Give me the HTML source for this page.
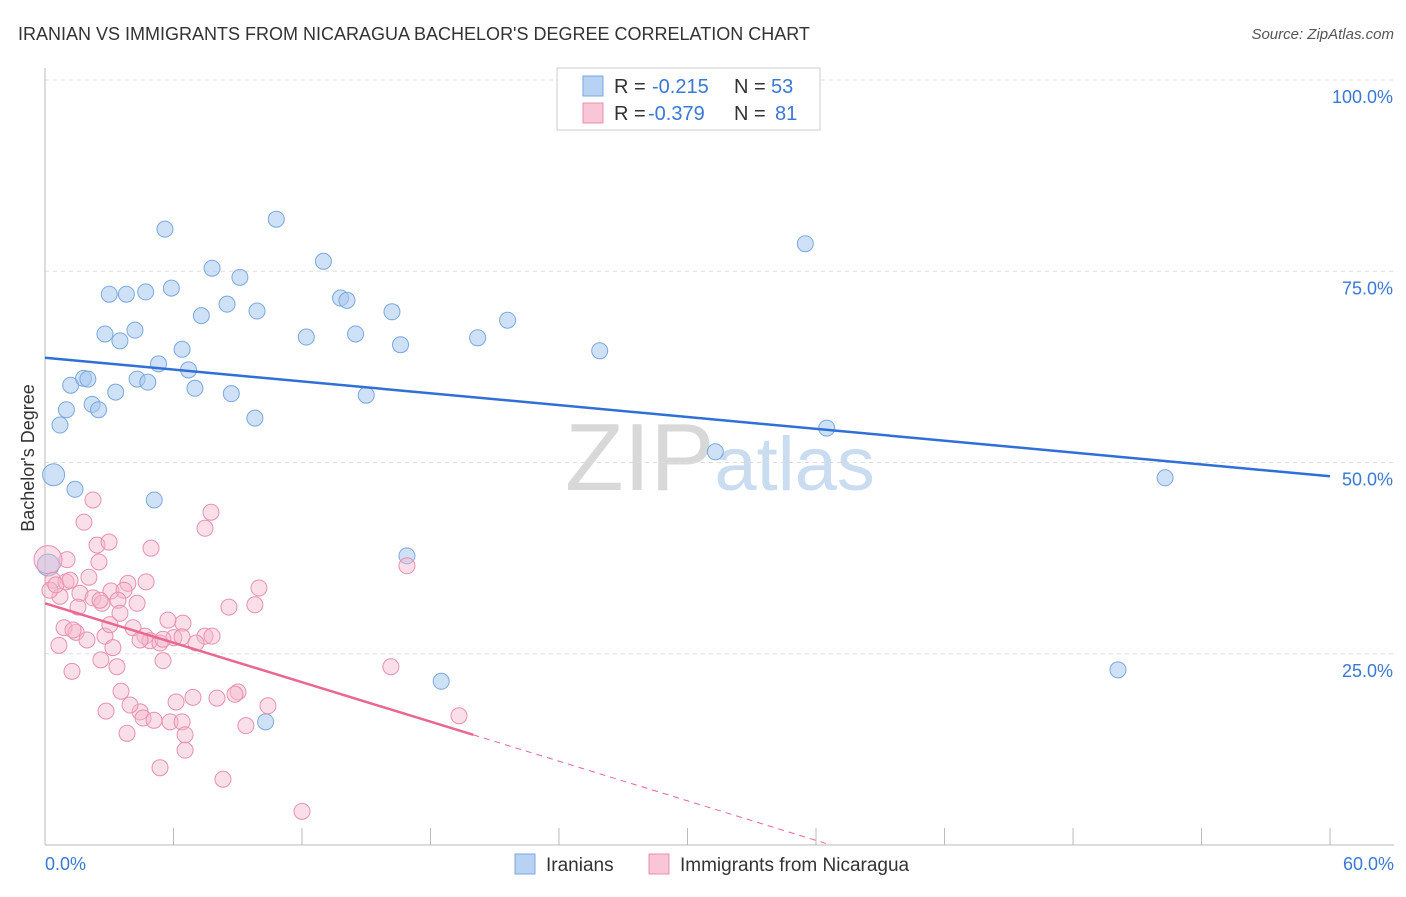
<!DOCTYPE html>
<html><head><meta charset="utf-8"><style>
body{margin:0;background:#fff;font-family:"Liberation Sans",sans-serif}
svg text{font-family:"Liberation Sans",sans-serif}
</style></head><body>
<svg id="c" width="1406" height="892">
<text x="18" y="40" font-size="18" fill="#333">IRANIAN VS IMMIGRANTS FROM NICARAGUA BACHELOR'S DEGREE CORRELATION CHART</text>
<text x="1394" y="39" font-size="15" fill="#555" font-style="italic" text-anchor="end">Source: ZipAtlas.com</text>
<text x="720" y="490" font-size="96" fill="#ddd" text-anchor="middle" font-family="Liberation Serif"><tspan fill="#d8d8d8">ZIP</tspan><tspan fill="#c9dcf0" font-family="Liberation Sans" font-size="76">atlas</tspan></text>
<g id="grid"></g><g id="pts"></g><g id="lines"></g>
<text x="34" y="458" font-size="18" fill="#333" text-anchor="middle" transform="rotate(-90 34 458)">Bachelor's Degree</text>
<text x="45" y="870" font-size="18" fill="#3a78d4">0.0%</text>
<text x="1394" y="870" font-size="18" fill="#3a78d4" text-anchor="end">60.0%</text>
<g>
<rect x="557" y="68" width="263" height="62" fill="#fff" stroke="#ccc"/>
<rect x="583" y="76" width="20" height="20" fill="#b8d2f4" stroke="#7aa8e0"/>
<rect x="583" y="103" width="20" height="20" fill="#f8c6d6" stroke="#e890b0"/>
<text x="614" y="93" font-size="20" fill="#333">R =</text>
<text x="652" y="93" font-size="20" fill="#3a78d4">-0.215</text>
<text x="734" y="93" font-size="20" fill="#333">N =</text>
<text x="771" y="93" font-size="20" fill="#3a78d4">53</text>
<text x="614" y="120" font-size="20" fill="#333">R =</text>
<text x="648" y="120" font-size="20" fill="#3a78d4">-0.379</text>
<text x="734" y="120" font-size="20" fill="#333">N =</text>
<text x="775" y="120" font-size="20" fill="#3a78d4">81</text>
</g>
<g>
<rect x="515" y="854" width="20" height="20" fill="#b8d2f4" stroke="#7aa8e0"/>
<text x="546" y="871" font-size="19" fill="#333">Iranians</text>
<rect x="649" y="854" width="20" height="20" fill="#f8c6d6" stroke="#e890b0"/>
<text x="680" y="871" font-size="19" fill="#333">Immigrants from Nicaragua</text>
</g>
</svg>
<script>
const yTicks=[25,50,75,100];
const yTickLabels=["25.0%","50.0%","75.0%","100.0%"];
const xTicks=[0,6,12,18,24,30,36,42,48,54,60];
const blueX=[5.6,10.8,35.5,7.8,13.0,9.1,3.0,3.8,4.7,5.9,13.8,14.1,8.5,7.3,9.9,16.2,21.6,2.8,4.2,3.5,12.2,14.5,16.6,20.2,25.9,6.4,5.3,6.7,1.2,1.8,2.0,4.3,4.8,3.3,7.0,8.7,15.0,2.2,2.5,1.0,0.7,9.8,36.5,31.3,0.4,52.3,1.4,5.1,16.9,0.15,18.5,50.1,10.3];
const blueY=[80.5,81.8,78.6,75.4,76.3,74.2,72.0,72.0,72.3,72.8,71.5,71.2,70.7,69.2,69.8,69.7,68.6,66.8,67.3,65.9,66.4,66.8,65.4,66.3,64.6,64.8,62.9,62.1,60.1,61.0,60.9,60.9,60.5,59.2,59.7,59.0,58.8,57.6,56.9,56.9,54.9,55.8,54.5,51.4,48.4,48.0,46.5,45.1,37.8,36.6,21.4,22.9,16.1];
const pinkX=[2.24,1.82,7.75,7.47,2.43,2.99,4.95,1.03,2.52,16.9,0.14,2.05,3.87,4.72,9.99,0.37,0.98,3.08,3.69,0.70,1.63,2.24,2.66,3.41,4.30,8.59,9.80,1.54,3.50,6.44,0.89,1.45,1.31,4.11,4.67,2.80,6.02,4.90,5.37,5.51,6.40,7.47,7.05,0.65,1.96,3.17,2.61,5.51,3.36,16.15,1.26,3.55,9.01,8.87,8.03,6.91,6.12,2.85,4.44,4.58,5.09,5.84,6.40,10.41,9.38,3.83,6.54,6.54,5.37,8.31,12.0,19.33,0.23,0.51,2.57,1.17,4.44,3.03,5.74,7.80,3.97];
const pinkY=[45.1,42.2,43.5,41.4,39.2,39.6,38.8,37.3,37.0,36.5,37.3,35.0,34.2,34.4,33.6,34.6,34.4,33.2,33.3,32.5,32.9,32.3,31.6,32.0,31.6,31.1,31.4,31.1,30.3,29.0,28.4,27.8,28.1,28.4,27.3,27.3,27.1,26.7,26.4,26.9,27.2,27.3,26.4,26.1,26.8,25.8,24.2,24.1,23.3,23.3,22.7,20.1,20.0,19.7,19.2,19.3,18.7,17.5,17.4,16.6,16.3,16.1,16.1,18.2,15.6,14.6,14.4,12.4,10.1,8.6,4.4,16.9,33.3,34.0,32.0,34.6,26.8,28.8,29.4,27.3,18.3];
const blueTrend=[63.7,48.2];
const pinkTrend=[31.6,14.4,20,36.7];
const NS="http://www.w3.org/2000/svg";
const X=v=>45+v*21.417, Y=v=>845-v*7.65;
function mk(p,t,a){const e=document.createElementNS(NS,t);for(const k in a)e.setAttribute(k,a[k]);p.appendChild(e);return e;}
const gG=document.getElementById('grid'),gP=document.getElementById('pts'),gL=document.getElementById('lines');
const topLine=mk(gG,'line',{x1:45,x2:1394,y1:Y(100),y2:Y(100),stroke:'#ddd','stroke-dasharray':'4,4'});


yTicks.forEach((t,i)=>{
 const l=mk(gG,'line',{x1:45,x2:1394,y1:Y(t),y2:Y(t),stroke:'#ddd','stroke-dasharray':'4,4'});
 
 
 const tx=mk(gG,'text',{x:1393,y:Y(t)+23,'font-size':18,fill:'#3a78d4','text-anchor':'end'});
 tx.textContent=yTickLabels[i];
 
 
});
const ax=mk(gG,'line',{x1:45,x2:1394,y1:845,y2:845,stroke:'#bbb'});


const ay=mk(gG,'line',{x1:45,x2:45,y1:68,y2:845,stroke:'#bbb'});


xTicks.forEach(t=>{
 const l=mk(gG,'line',{x1:X(t),x2:X(t),y1:828,y2:845,stroke:'#bbb'});
 
 
});
blueX.forEach((v,i)=>{
 const big=(v<0.5&&(blueY[i]>48&&blueY[i]<49||blueY[i]<37&&blueY[i]>36));
 const c=mk(gP,'circle',{cx:X(v),cy:Y(blueY[i]),r:big?11:8,fill:'rgba(168,200,240,0.55)',stroke:'#7aa8e0','stroke-width':1});
 
 
});
pinkX.forEach((v,i)=>{
 const big=(i===10);
 const c=mk(gP,'circle',{cx:X(v),cy:Y(pinkY[i]),r:big?14:8,fill:'rgba(244,184,204,0.45)',stroke:'#e890b0','stroke-width':1});
 
 
});
const bl=mk(gL,'line',{x1:X(0),y1:Y(blueTrend[0]),x2:X(60),y2:Y(blueTrend[1]),stroke:'#2f6fd6','stroke-width':2.5});


const pl=mk(gL,'line',{x1:X(0),y1:Y(pinkTrend[0]),x2:X(pinkTrend[2]),y2:Y(pinkTrend[1]),stroke:'#e8688f','stroke-width':2.5});


const pd=mk(gL,'line',{x1:X(pinkTrend[2]),y1:Y(pinkTrend[1]),x2:X(pinkTrend[3]),y2:Y(0),stroke:'#e8688f','stroke-width':1,'stroke-dasharray':'6,5'});


</script>
</body></html>
